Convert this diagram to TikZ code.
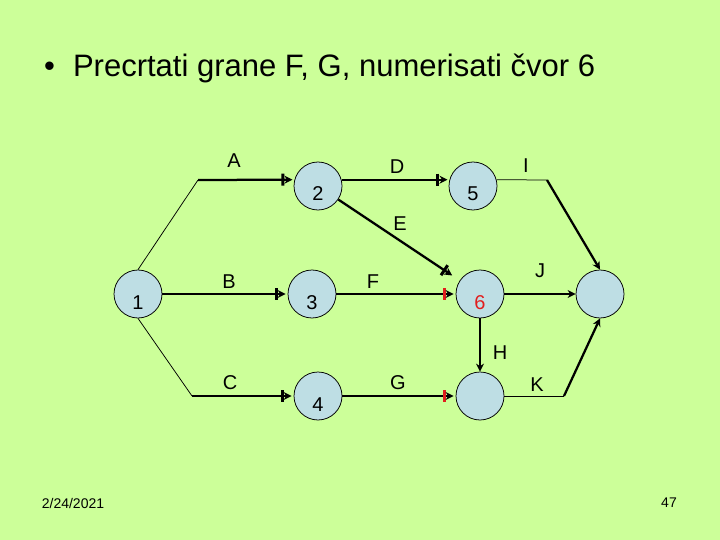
\documentclass[tikz,border=0pt]{standalone}
\usepackage{fontspec}
\setmainfont{Liberation Sans}
\usetikzlibrary{arrows.meta}

\definecolor{slidegreen}{RGB}{204,255,153}
\definecolor{nodeblue}{RGB}{190,222,228}
\definecolor{tickred}{RGB}{225,30,30}

\begin{document}
\begin{tikzpicture}[
        x=1pt, y=-1pt,
        event/.style={circle, draw, fill=nodeblue, line width=0.75pt, minimum size=48pt, inner sep=0pt, text height=30pt, text depth=0pt, font=\fontsize{20}{24}\selectfont},
        lbl/.style={inner sep=0pt, font=\fontsize{20}{24}\selectfont},
        lead/.style={line width=0.75pt},
        arrow/.style={line width=2.25pt, -{Stealth[length=8pt,width=8pt]}},
        bararrow/.style={line width=2.25pt, -{Bar[width=12pt,line width=3pt,color=#1] Stealth[length=8pt,width=8pt,sep=2pt]}},
        bararrow/.default=black,
        farbar/.style={line width=2.25pt, -{Bar[width=12pt,line width=3pt] Stealth[length=8pt,width=8pt,sep=9pt]}}
        ]

        \fill[slidegreen] (0,0) rectangle (720,540);

        \node[anchor=base west, inner sep=0pt, font=\fontsize{31}{37}\selectfont] (title) at (44,77) {\textbullet\hspace{18pt}Precrtati grane F, G, numerisati čvor 6};

        \node[event] (n1) at (138,294) {1};
        \node[event] (n2) at (318,186) {2};
        \node[event] (n3) at (312,294) {3};
        \node[event] (n4) at (318,396) {4};
        \node[event] (n5) at (473,186) {5};
        \node[event, text=tickred] (n6) at (480,294) {6};
        \node[event] (n7) at (600,294) {};
        \node[event] (n8) at (480,396) {};

        \coordinate (bA) at (198,180);
        \coordinate (bC) at (192,396);
        \coordinate (bI) at (547,180);
        \coordinate (bK) at (564,396);

        \draw[lead] (n1.north) -- (bA);
        \draw[bararrow] (bA) -- (n2.165);
        \draw[bararrow] (n1) -- (n3);
        \draw[lead] (n1.south) -- (bC);
        \draw[bararrow] (bC) -- (n4);
        \draw[bararrow] (n2.15) -- (n5.165);
        \draw[farbar] (n2) -- (n6);
        \draw[bararrow=tickred] (n3) -- (n6);
        \draw[bararrow=tickred] (n4) -- (n8);
        \draw[lead] (n5.15) -- (bI);
        \draw[arrow] (bI) -- (n7.north);
        \draw[arrow] (n6) -- (n7);
        \draw[arrow] (n6) -- (n8);
        \draw[lead] (n8) -- (bK);
        \draw[arrow] (bK) -- (n7.south);

        \node[lbl] (lA) at (234,161) {A};
        \node[lbl] (lB) at (229,282) {B};
        \node[lbl] (lC) at (230,383) {C};
        \node[lbl] (lD) at (397,167) {D};
        \node[lbl] (lE) at (400,224) {E};
        \node[lbl] (lF) at (373,282) {F};
        \node[lbl] (lG) at (398,383) {G};
        \node[lbl] (lH) at (500,353) {H};
        \node[lbl] (lI) at (526,166) {I};
        \node[lbl] (lJ) at (540,271) {J};
        \node[lbl] (lK) at (537,385) {K};

        \node[font=\fontsize{14}{17}\selectfont] (date) at (73,503) {2/24/2021};
        \node[font=\fontsize{14}{17}\selectfont] (page) at (669,503) {47};

    \end{tikzpicture}
\end{document}
